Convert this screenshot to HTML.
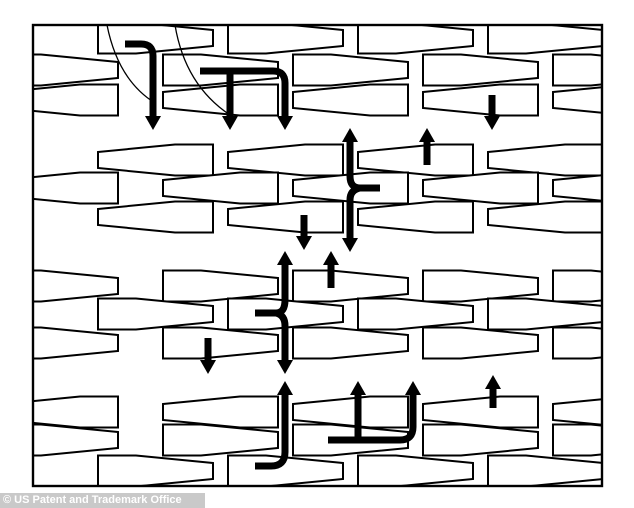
<!DOCTYPE html>
<html><head><style>
html,body{margin:0;padding:0;background:#fff;width:634px;height:508px;overflow:hidden}
svg{position:absolute;left:0;top:0}
.lab{position:absolute;left:0;top:493px;width:205px;height:15px;background:#c9c9c9;color:#fff;font:bold 11px "Liberation Sans",sans-serif;line-height:15px;padding-left:3px;box-sizing:border-box;white-space:nowrap}
</style></head><body>
<svg width="634" height="508" viewBox="0 0 634 508">
<defs>
<clipPath id="c"><rect x="33" y="25" width="569" height="461"/></clipPath>
<polygon id="R" points="0,-8 77,-15.5 115,-15.5 115,15.5 77,15.5 0,8" fill="#fff" stroke="#000" stroke-width="2"/>
<g id="L"><use href="#R" transform="translate(115,0) scale(-1,1)"/></g>
</defs>
<g clip-path="url(#c)">
<use href="#L" x="98" y="38"/><use href="#L" x="228" y="38"/><use href="#L" x="358" y="38"/><use href="#L" x="488" y="38"/>
<use href="#R" x="3" y="100"/><use href="#R" x="163" y="100"/><use href="#R" x="293" y="100"/><use href="#R" x="423" y="100"/><use href="#R" x="553" y="100"/>
<use href="#L" x="3" y="70"/><use href="#L" x="163" y="70"/><use href="#L" x="293" y="70"/><use href="#L" x="423" y="70"/><use href="#L" x="553" y="70"/>
<use href="#R" x="98" y="160"/><use href="#R" x="228" y="160"/><use href="#R" x="358" y="160"/><use href="#R" x="488" y="160"/>
<use href="#R" x="98" y="217"/><use href="#R" x="228" y="217"/><use href="#R" x="358" y="217"/><use href="#R" x="488" y="217"/>
<use href="#R" x="3" y="188"/><use href="#R" x="163" y="188"/><use href="#R" x="293" y="188"/><use href="#R" x="423" y="188"/><use href="#R" x="553" y="188"/>
<use href="#L" x="3" y="286"/><use href="#L" x="163" y="286"/><use href="#L" x="293" y="286"/><use href="#L" x="423" y="286"/><use href="#L" x="553" y="286"/>
<use href="#L" x="3" y="343"/><use href="#L" x="163" y="343"/><use href="#L" x="293" y="343"/><use href="#L" x="423" y="343"/><use href="#L" x="553" y="343"/>
<use href="#L" x="98" y="314"/><use href="#L" x="228" y="314"/><use href="#L" x="358" y="314"/><use href="#L" x="488" y="314"/>
<use href="#R" x="3" y="412"/><use href="#R" x="163" y="412"/><use href="#R" x="293" y="412"/><use href="#R" x="423" y="412"/><use href="#R" x="553" y="412"/>
<use href="#L" x="98" y="471"/><use href="#L" x="228" y="471"/><use href="#L" x="358" y="471"/><use href="#L" x="488" y="471"/>
<use href="#L" x="3" y="440"/><use href="#L" x="163" y="440"/><use href="#L" x="293" y="440"/><use href="#L" x="423" y="440"/><use href="#L" x="553" y="440"/>
<line x1="98" y1="455" x2="98" y2="486" stroke="#000" stroke-width="2"/>
<path d="M107,25 Q118,80 155,103" fill="none" stroke="#000" stroke-width="1.3"/>
<path d="M175,25 Q185,85 230,115" fill="none" stroke="#000" stroke-width="1.3"/>
</g>
<rect x="33" y="25" width="569" height="461" fill="none" stroke="#000" stroke-width="2.4"/>
<g fill="none" stroke="#000" stroke-width="7">
<path d="M125,44 H141 Q153,44 153,56 V118"/>
<path d="M200,71 H273 Q285,71 285,83 V118"/>
<path d="M230,71 V118"/>
<path d="M492,95 V118"/>
<path d="M350,140 V176 Q350,188 360,188 Q350,190 350,200 V240"/>
<path d="M358,188 H380"/>
<path d="M427,165 V140"/>
<path d="M304,215 V238"/>
<path d="M285,263 V300 Q285,313 276,313 Q285,315 285,326 V362"/>
<path d="M278,313 H255"/>
<path d="M331,288 V263"/>
<path d="M208,338 V362"/>
<path d="M285,393 V452 Q285,466 271,466 H255"/>
<path d="M328,440 H400 Q413,440 413,427 V393"/>
<path d="M358,440 V393"/>
<path d="M493,408 V387"/>
</g>
<g fill="#000">
<polygon points="145,116 161,116 153,130"/>
<polygon points="222,116 238,116 230,130"/>
<polygon points="277,116 293,116 285,130"/>
<polygon points="484,116 500,116 492,130"/>
<polygon points="342,142 358,142 350,128"/>
<polygon points="342,238 358,238 350,252"/>
<polygon points="419,142 435,142 427,128"/>
<polygon points="296,236 312,236 304,250"/>
<polygon points="277,265 293,265 285,251"/>
<polygon points="277,360 293,360 285,374"/>
<polygon points="323,265 339,265 331,251"/>
<polygon points="200,360 216,360 208,374"/>
<polygon points="277,395 293,395 285,381"/>
<polygon points="350,395 366,395 358,381"/>
<polygon points="405,395 421,395 413,381"/>
<polygon points="485,389 501,389 493,375"/>
</g>
</svg>
<div class="lab">© US Patent and Trademark Office</div>
</body></html>
